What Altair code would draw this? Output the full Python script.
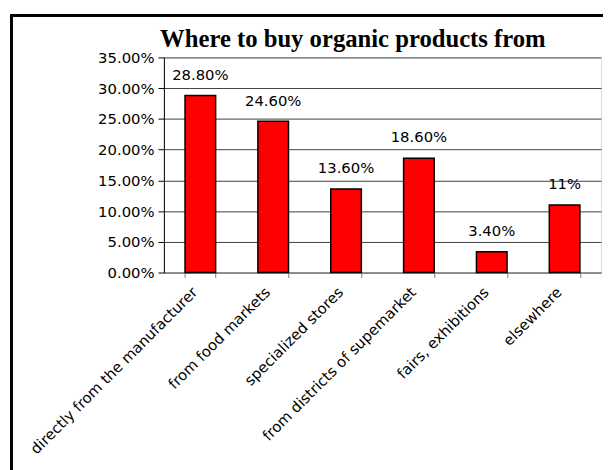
import altair as alt
import pandas as pd

categories = [
    "directly from the manufacturer",
    "from food markets",
    "specialized stores",
    "from districts of supemarket",
    "fairs, exhibitions",
    "elsewhere",
]
values = [0.288, 0.246, 0.136, 0.186, 0.034, 0.11]
labels = ["28.80%", "24.60%", "13.60%", "18.60%", "3.40%", "11%"]
y_ticks = [0, 0.05, 0.10, 0.15, 0.20, 0.25, 0.30, 0.35]
title_text = ["Where to buy organic products from"]

df = pd.DataFrame({"cat": categories, "val": values, "lab": labels})
df_title = pd.DataFrame({"t": title_text})

FONT = "DejaVu Sans"

x_enc = alt.X(
    "cat:N",
    sort=categories,
    title=None,
    scale=alt.Scale(paddingInner=0.58, paddingOuter=0.29),
    axis=alt.Axis(
        labelAngle=-45,
        labelAlign="right",
        labelBaseline="middle",
        labelFont=FONT,
        labelFontSize=15,
        labelColor="black",
        labelPadding=12,
        labelOffset=-6,
        labelLimit=400,
        labelOverlap=False,
        tickBand="extent",
        tickSize=5,
        tickColor="#808080",
        domainColor="#808080",
        grid=False,
    ),
)
y_enc = alt.Y(
    "val:Q",
    title=None,
    scale=alt.Scale(domain=[0, 0.35], nice=False),
    axis=alt.Axis(
        values=y_ticks,
        format=".2%",
        labelFont=FONT,
        labelFontSize=15,
        labelColor="black",
        labelPadding=4,
        labelOverlap=False,
        labelFlush=False,
        tickSize=6,
        tickColor="black",
        domainColor="black",
        grid=True,
        gridColor="#404040",
        gridWidth=1,
    ),
)

base = alt.Chart(df)

frame = base.mark_rect(fill=None, stroke="black", strokeWidth=2).encode(
    x=alt.value(-154.5), x2=alt.value(470), y=alt.value(-42.5), y2=alt.value(440)
)

bars = base.mark_bar(color="#FF0000", stroke="black", strokeWidth=1.5).encode(
    x=x_enc, y=y_enc
)

text = base.mark_text(
    font=FONT, fontSize=15, color="black", baseline="middle", dy=-21
).encode(x=x_enc, y=y_enc, text="lab:N")

title = alt.Chart(df_title).mark_text(
    font="Liberation Serif",
    fontSize=25,
    fontWeight="bold",
    color="black",
    align="center",
    baseline="alphabetic",
).encode(x=alt.value(191.5), y=alt.value(-11), text="t:N")

chart = (
    alt.layer(frame, bars, text, title)
    .properties(
        width=443,
        height=218,
        autosize=alt.AutoSizeParams(type="none"),
        padding={"left": 158, "top": 47, "right": 2, "bottom": 197},
    )
    .configure_view(stroke="#808080", strokeWidth=1)
    .configure(background="white")
)

chart.save("out.html", embed_options={"renderer": "svg", "actions": False})
